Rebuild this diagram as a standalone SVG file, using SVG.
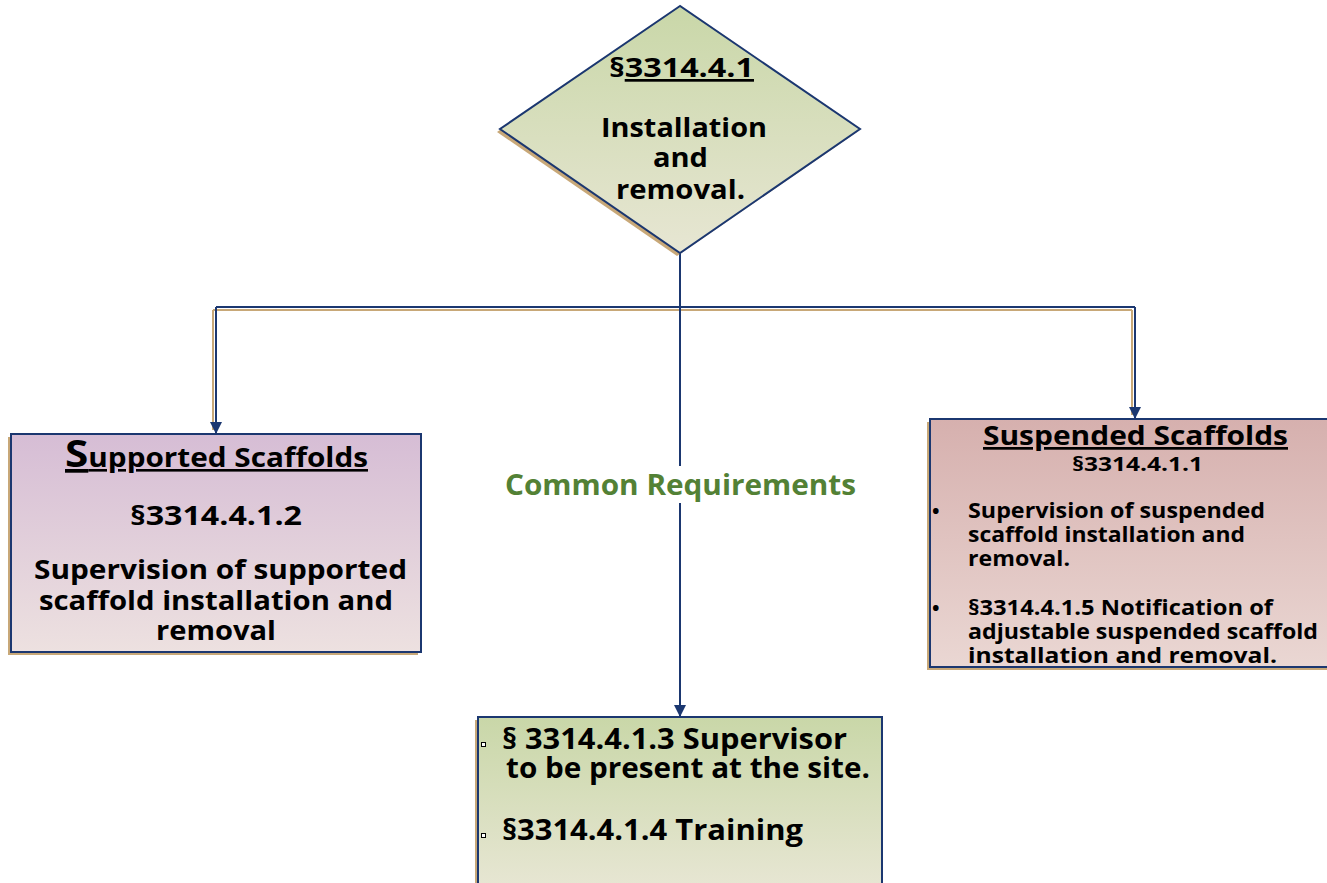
<svg xmlns="http://www.w3.org/2000/svg" width="1327" height="883" viewBox="0 0 1327 883">
<style>
.t{font-family:"Open Sans","Liberation Sans",sans-serif;font-weight:700;fill:#000}
.c{text-anchor:middle}
.u{text-decoration:underline}
.edge{fill:none;stroke:#1b3770;stroke-width:2}
.sh{fill:none;stroke:#c8a878;stroke-width:2}
.box{stroke:#1b3770;stroke-width:2}
</style>
<defs>
<linearGradient id="gG" x1="0" y1="0" x2="0" y2="1"><stop offset="0" stop-color="#c9d7a8"/><stop offset="1" stop-color="#e7e6d3"/></linearGradient>
<linearGradient id="gP" x1="0" y1="0" x2="0" y2="1"><stop offset="0" stop-color="#d6bdd5"/><stop offset="1" stop-color="#ede1e0"/></linearGradient>
<linearGradient id="gR" x1="0" y1="0" x2="0" y2="1"><stop offset="0" stop-color="#d6b0ae"/><stop offset="1" stop-color="#ead7d3"/></linearGradient>
<marker id="ah" markerWidth="12" markerHeight="12" refX="11" refY="6" orient="auto" markerUnits="userSpaceOnUse"><path d="M0,0 L12,6 L0,12 Z" fill="#1b3770"/></marker>
</defs>
<rect width="1327" height="883" fill="#fff"/>
<g id="connectors">
<path class="sh" d="M213,310 H1132 M213,310 V430 M1132,310 V415"/>
<path class="edge" d="M680,253 V466"/>
<path class="edge" d="M680,503 V716" marker-end="url(#ah)"/>
<path class="edge" d="M216,307 H1135"/>
<path class="edge" d="M216,307 V433" marker-end="url(#ah)"/>
<path class="edge" d="M1135,307 V418" marker-end="url(#ah)"/>
<text class="t c" x="680.5" y="495" font-size="28" textLength="351" lengthAdjust="spacingAndGlyphs" style="fill:#538135">Common Requirements</text>
</g>
<g id="top">
<polygon points="677,9 497,132 677,256 857,132" fill="#c8a878"/>
<polygon class="box" points="680,6 500,129 680,253 860,129" fill="url(#gG)"/>
<text class="t c" x="681.5" y="77" font-size="27" textLength="145" lengthAdjust="spacingAndGlyphs">§<tspan class="u">3314.4.1</tspan></text>
<text class="t c" x="684" y="137" font-size="27" textLength="166" lengthAdjust="spacingAndGlyphs">Installation</text>
<text class="t c" x="680.5" y="167" font-size="27" textLength="55" lengthAdjust="spacingAndGlyphs">and</text>
<text class="t c" x="680.5" y="199" font-size="27" textLength="129" lengthAdjust="spacingAndGlyphs">removal.</text>
</g>
<g id="supported">
<rect x="8" y="437" width="410" height="218" fill="#c8a878"/>
<rect class="box" x="11" y="434" width="410" height="218" fill="url(#gP)"/>
<text class="t c u" x="216.5" y="467" font-size="26" textLength="303" lengthAdjust="spacingAndGlyphs"><tspan font-size="37">S</tspan>upported Scaffolds</text>
<text class="t c" x="216" y="525" font-size="27" textLength="172" lengthAdjust="spacingAndGlyphs">§3314.4.1.2</text>
<text class="t c" x="220.5" y="579" font-size="27" textLength="373" lengthAdjust="spacingAndGlyphs">Supervision of supported</text>
<text class="t c" x="216" y="610" font-size="27" textLength="354" lengthAdjust="spacingAndGlyphs">scaffold installation and</text>
<text class="t c" x="216" y="640" font-size="27" textLength="120" lengthAdjust="spacingAndGlyphs">removal</text>
</g>
<g id="suspended">
<rect x="927" y="422" width="402" height="248" fill="#c8a878"/>
<rect class="box" x="930" y="419" width="402" height="248" fill="url(#gR)"/>
<text class="t c u" x="1135.5" y="445" font-size="27" textLength="305" lengthAdjust="spacingAndGlyphs">Suspended Scaffolds</text>
<text class="t c" x="1137.5" y="471" font-size="20" textLength="131" lengthAdjust="spacingAndGlyphs">§3314.4.1.1</text>
<text class="t" x="932" y="518" font-size="20">•</text>
<text class="t" x="968" y="518" font-size="21" textLength="297" lengthAdjust="spacingAndGlyphs">Supervision of suspended</text>
<text class="t" x="968" y="542" font-size="21" textLength="277" lengthAdjust="spacingAndGlyphs">scaffold installation and</text>
<text class="t" x="968" y="566" font-size="21" textLength="102" lengthAdjust="spacingAndGlyphs">removal.</text>
<text class="t" x="932" y="615" font-size="20">•</text>
<text class="t" x="968" y="615" font-size="21" textLength="305" lengthAdjust="spacingAndGlyphs">§3314.4.1.5 Notification of</text>
<text class="t" x="968" y="639" font-size="21" textLength="350" lengthAdjust="spacingAndGlyphs">adjustable suspended scaffold</text>
<text class="t" x="968" y="663" font-size="21" textLength="309" lengthAdjust="spacingAndGlyphs">installation and removal.</text>
</g>
<g id="common">
<rect x="475" y="720" width="404" height="170" fill="#c8a878"/>
<rect class="box" x="478" y="717" width="404" height="170" fill="url(#gG)"/>
<rect x="481.5" y="742.5" width="4" height="4" fill="#fff" stroke="#000" stroke-width="1"/>
<rect x="481.5" y="833.5" width="4" height="4" fill="#fff" stroke="#000" stroke-width="1"/>
<text class="t" x="502" y="749" font-size="28" textLength="345" lengthAdjust="spacingAndGlyphs">§ 3314.4.1.3 Supervisor</text>
<text class="t" x="506" y="778" font-size="28" textLength="364" lengthAdjust="spacingAndGlyphs">to be present at the site.</text>
<text class="t" x="502" y="840" font-size="28" textLength="301" lengthAdjust="spacingAndGlyphs">§3314.4.1.4 Training</text>
</g>
</svg>
